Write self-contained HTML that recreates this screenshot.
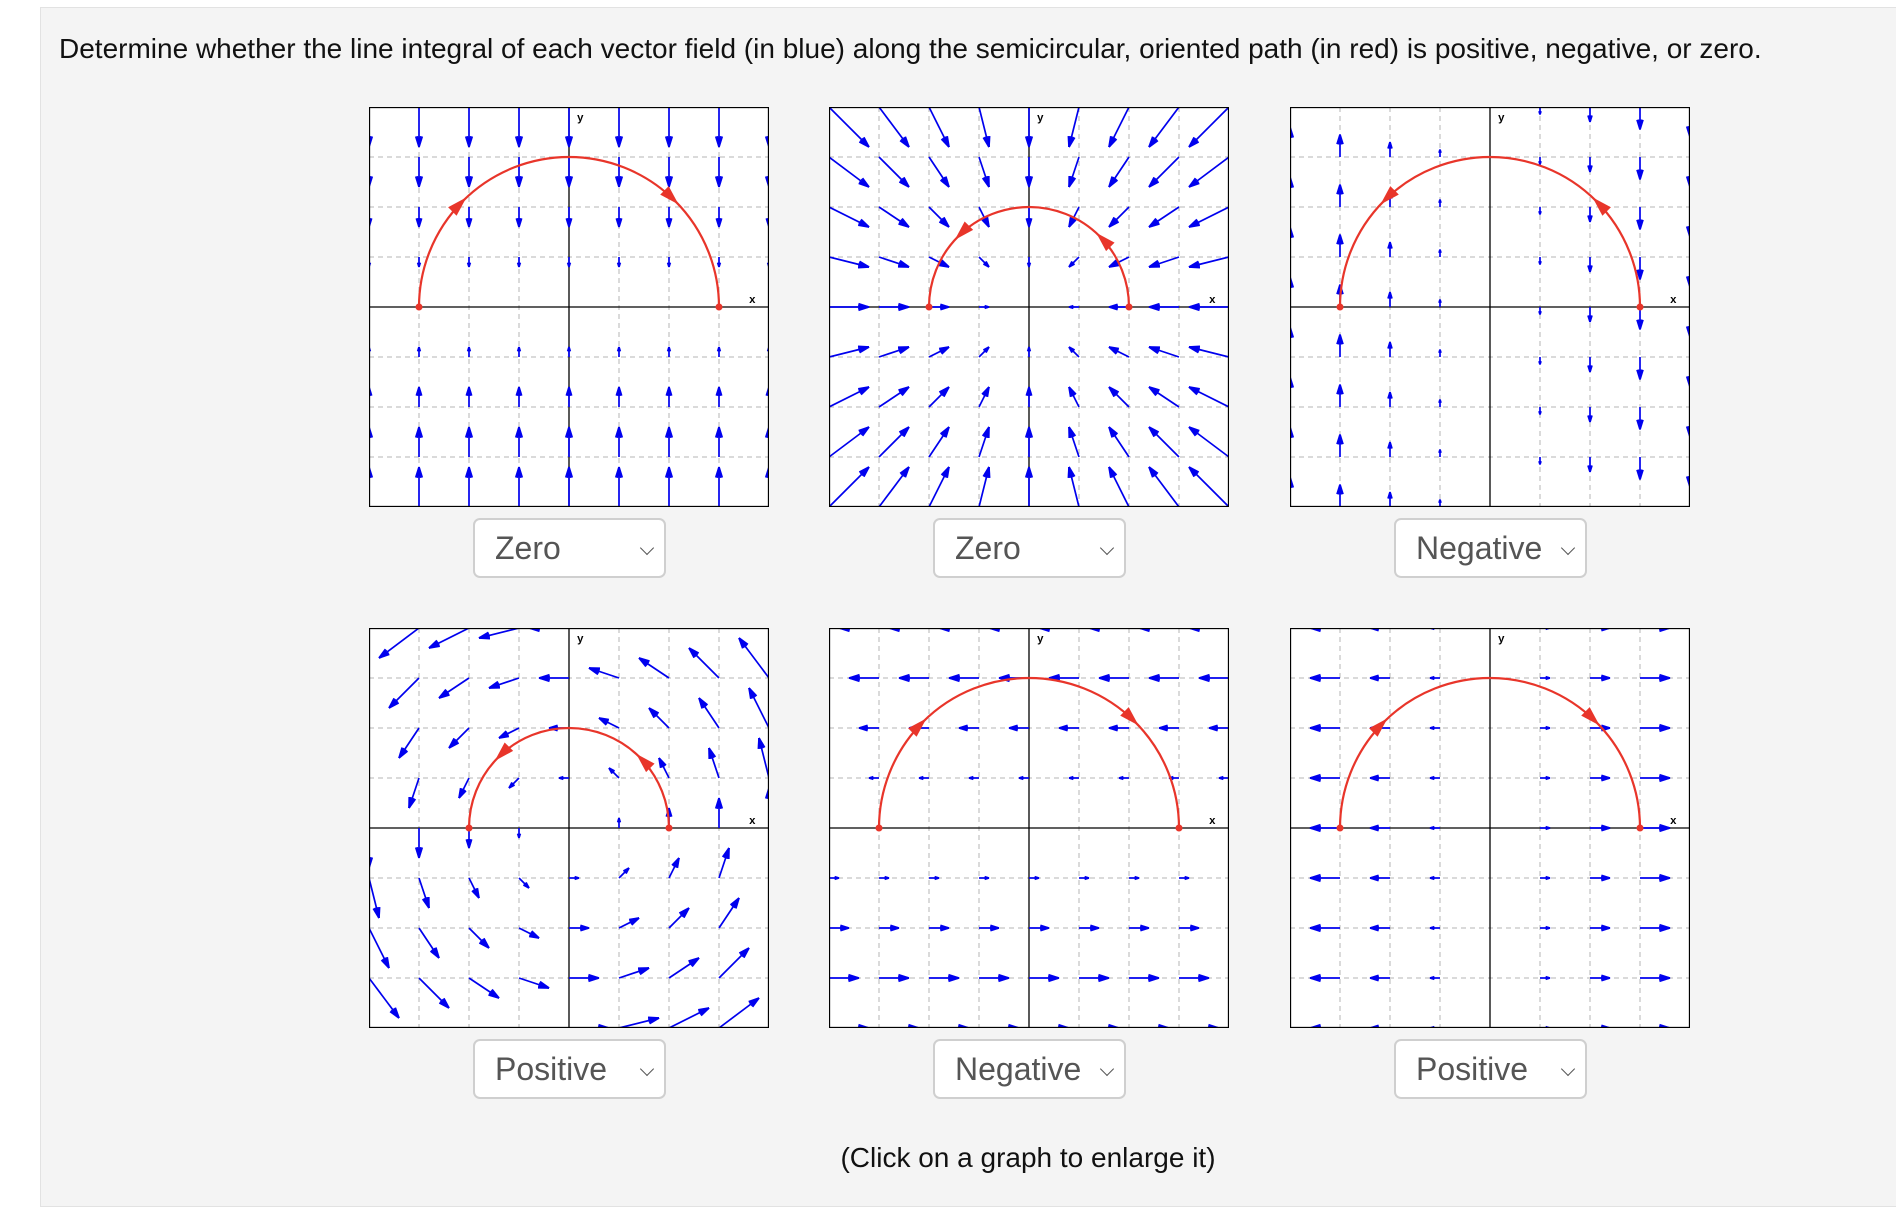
<!DOCTYPE html>
<html><head><meta charset="utf-8">
<style>
html,body{margin:0;padding:0;background:#fff;width:1896px;height:1190px;overflow:hidden;font-family:"Liberation Sans",Arial,sans-serif;}
#card{position:absolute;left:40px;top:7px;width:1860px;height:1200px;background:#f4f4f4;border:1px solid #e2e2e2;box-sizing:border-box;}
#prompt{position:absolute;left:59px;top:33px;font-size:28px;color:#111;white-space:nowrap;}
.plot{position:absolute;width:400px;height:400px;cursor:pointer;}
.dd{position:absolute;width:193px;height:60px;box-sizing:border-box;border:2px solid #cfcfcf;border-radius:7px;background:#fff;font-size:32px;color:#555;line-height:56px;padding-left:20px;}
.dd .chev{position:absolute;right:12px;top:23px;width:9px;height:9px;border-right:1.6px solid #555;border-bottom:1.6px solid #555;transform:rotate(45deg);}
#hint{position:absolute;left:0;width:2056px;top:1142px;text-align:center;font-size:28px;color:#111;}
</style></head>
<body>
<div id="card"></div>
<div id="prompt">Determine whether the line integral of each vector field (in blue) along the semicircular, oriented path (in red) is positive, negative, or zero.</div>
<div id="plots"></div>
<div id="hint">(Click on a graph to enlarge it)</div>
<script>
// field coefficients [a,b,c,d]: Fx = a*x + b*y, Fy = c*x + d*y
const field1 = [0, 0, 0, -0.2];
const field2 = [-0.2, 0, 0, -0.2];
const field3 = [0, 0, -0.15, 0];
const field4 = [0, -0.2, 0.2, 0];
const field5 = [0, -0.2, 0, 0];
const field6 = [0.2, 0, 0, 0];
const pathRadius = [3, 2, 3, 2, 3, 3];
const pathClockwise = [true, false, false, false, true, true];
const answers = ["Zero", "Zero", "Negative", "Positive", "Negative", "Positive"];
const gridTicks = [-4, -3, -2, -1, 0, 1, 2, 3, 4];

const fields = [field1, field2, field3, field4, field5, field6];
const lefts = [369, 829, 1290];
const tops = [107, 628];
const NS = "http://www.w3.org/2000/svg";
const sx = v => 200 + v * 50;
const sy = v => 200 - v * 50;
function el(tag, attrs, parent){const e=document.createElementNS(NS,tag);for(const k in attrs)e.setAttribute(k,attrs[k]);parent.appendChild(e);return e;}
const host = document.getElementById('plots');
fields.forEach((f, i) => {
  const col = i % 3, row = Math.floor(i / 3);
  const svg = document.createElementNS(NS, 'svg');
  
  
  svg.setAttribute('class', 'plot');
  svg.setAttribute('width', 400); svg.setAttribute('height', 400);
  svg.style.left = lefts[col] + 'px'; svg.style.top = tops[row] + 'px';
  host.appendChild(svg);
  el('rect', {x:0,y:0,width:400,height:400,fill:'#fff'}, svg);
  gridTicks.forEach(t => {
    if (t === 0 || Math.abs(t) === 4) return;
    el('line',{x1:sx(t),y1:0,x2:sx(t),y2:400,stroke:'#b4b4b4','stroke-width':1,'stroke-dasharray':'5,4'},svg);
    el('line',{x1:0,y1:sy(t),x2:400,y2:sy(t),stroke:'#b4b4b4','stroke-width':1,'stroke-dasharray':'5,4'},svg);
  });
  el('line',{x1:sx(0),y1:0,x2:sx(0),y2:400,stroke:'#000','stroke-width':1.3},svg);
  el('line',{x1:0,y1:sy(0),x2:400,y2:sy(0),stroke:'#000','stroke-width':1.3},svg);
  const yl = el('text',{x:sx(0)+8,y:sy(3.72),'font-size':11,'font-family':'Liberation Mono, monospace','font-weight':'bold'},svg); yl.textContent='y';
  
  
  const xl = el('text',{x:sx(3.6),y:sy(0.08),'font-size':11,'font-family':'Liberation Mono, monospace','font-weight':'bold'},svg); xl.textContent='x';
  
  
  const g = el('g',{stroke:'#0000ee','stroke-width':1.7,fill:'none'},svg);
  gridTicks.forEach(x => gridTicks.forEach(y => {
    const fx = f[0]*x + f[1]*y, fy = f[2]*x + f[3]*y;
    const len = Math.hypot(fx, fy);
    if (len < 0.02) return;
    const x1 = sx(x), y1 = sy(y), x2 = sx(x + fx), y2 = sy(y + fy);
    const a = el('line',{x1:x1,y1:y1,x2:x2,y2:y2},g);
    
    
    const ang = Math.atan2(y2 - y1, x2 - x1), h = Math.min(11, len * 50 * 0.45);
    [0.3, -0.3, 0.15, -0.15].forEach(d => el('line',{x1:x2,y1:y2,x2:x2 - h*Math.cos(ang+d),y2:y2 - h*Math.sin(ang+d)},g));
  }));
  const r = pathRadius[i];
  const p = el('path',{d:`M${sx(-r)},${sy(0)} A${r*50},${r*50} 0 0 1 ${sx(r)},${sy(0)}`,stroke:'#e8352a','stroke-width':2.2,fill:'none'},svg);
  
  
  [-r, r].forEach(x => {
    const c = el('circle',{cx:sx(x),cy:sy(0),r:3.5,fill:'#e8352a'},svg);
    
    
  });
  [135, 45].forEach(deg => {
    const t = deg * Math.PI / 180;
    const px = sx(r*Math.cos(t)), py = sy(r*Math.sin(t));
    let dx = -Math.sin(t), dy = -Math.cos(t);
    if (pathClockwise[i]) { dx = -dx; dy = -dy; }
    const L = 15, W = 6;
    const bx = px - dx*L, by = py - dy*L;
    const tri = el('polygon',{points:`${px+dx*5},${py+dy*5} ${bx-dy*W},${by+dx*W} ${bx+dy*W},${by-dx*W}`,fill:'#e8352a'},svg);
    
    
  });
  el('rect',{x:0.5,y:0.5,width:399,height:399,fill:'none',stroke:'#000','stroke-width':1.3},svg);
  const dd = document.createElement('div');
  
  
  dd.className = 'dd';
  dd.style.left = (lefts[col] + 104) + 'px';
  dd.style.top = (tops[row] + 411) + 'px';
  dd.textContent = answers[i];
  const ch = document.createElement('span');
  ch.className = 'chev';
  
  
  dd.appendChild(ch);
  host.appendChild(dd);
});
</script>
</body></html>
